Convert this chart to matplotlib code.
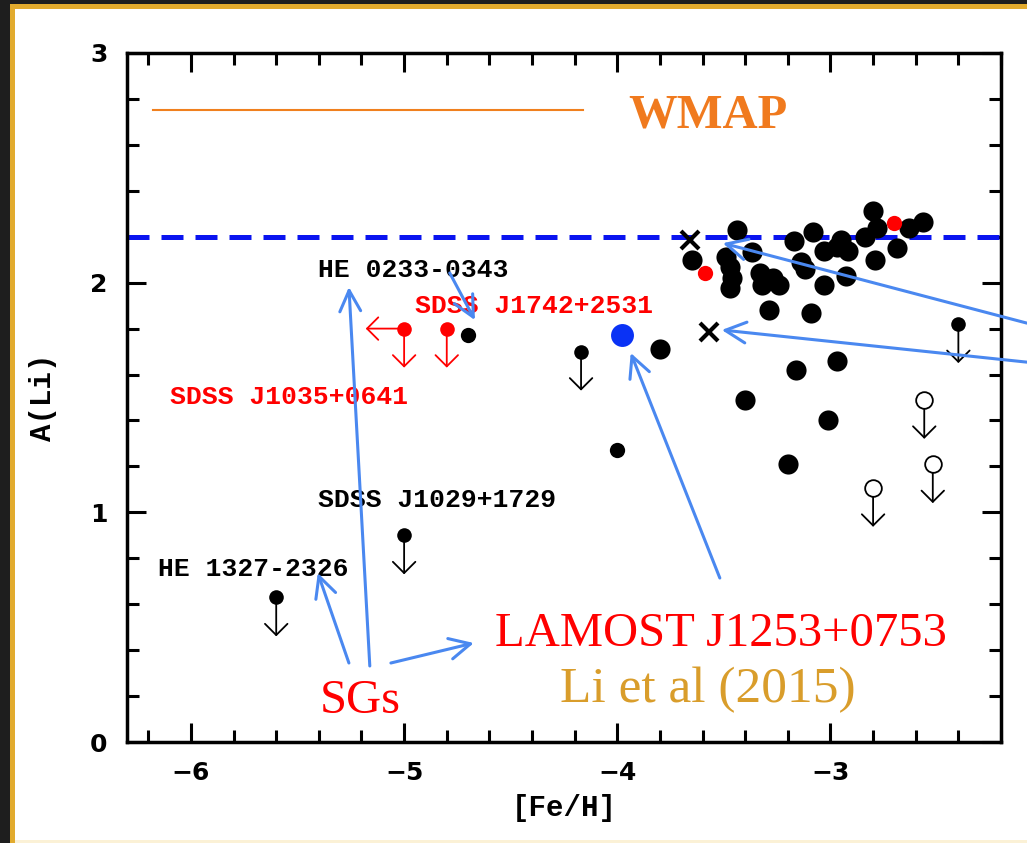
import matplotlib
matplotlib.use('Agg')
import matplotlib.pyplot as plt
from matplotlib.patches import Rectangle
from matplotlib.ticker import MultipleLocator
from matplotlib import font_manager

# --- measured A(Li) vs [Fe/H] ---
det_feh = [-3.65, -3.44, -3.49, -3.37, -3.47, -3.46, -3.47, -3.33, -3.32, -3.27,
           -3.24, -3.29, -3.09, -3.17, -3.08, -3.14, -3.12, -3.03, -3.03, -2.925,
           -2.97, -2.92, -2.95, -2.84, -2.80, -2.78, -2.79, -2.69, -2.63, -2.565,
           -2.97, -3.16, -3.40, -3.01, -3.20, -3.80]
det_li = [2.10, 2.23, 2.11, 2.135, 2.07, 2.02, 1.975, 2.04, 1.99, 2.02,
          1.99, 1.88, 1.87, 2.18, 2.22, 2.09, 2.06, 2.14, 1.99, 2.03,
          2.155, 2.14, 2.185, 2.20, 2.31, 2.24, 2.10, 2.15, 2.24, 2.265,
          1.66, 1.62, 1.49, 1.40, 1.21, 1.71]

small_feh = [-4.70, -4.00]
small_li = [1.77, 1.27]

red_feh = [-3.59, -2.70]
red_li = [2.04, 2.26]

# upper limits
lim_feh = [-5.60, -5.00, -4.17, -2.40]
lim_li = [0.63, 0.90, 1.70, 1.82]

red_lim_feh = [-5.00, -4.80]
red_lim_li = [1.80, 1.80]

open_lim_feh = [-2.56, -2.52, -2.80]
open_lim_li = [1.49, 1.21, 1.107]

cross_feh = [-3.66, -3.57]
cross_li = [2.185, 1.786]

lamost_feh, lamost_li = -3.976, 1.77

wmap_li = 2.75
plateau_li = 2.2

star_names = ['HE 0233-0343', 'SDSS J1742+2531', 'SDSS J1035+0641',
              'SDSS J1029+1729', 'HE 1327-2326']
name_x = [-5.405, -4.95, -6.10, -5.405, -6.155]
name_y = [2.055, 1.90, 1.50, 1.054, 0.753]
name_colors = ['black', 'red', 'red', 'black', 'black']

W, H = 1027, 843
fig = plt.figure(figsize=(W / 100, H / 100), dpi=100)
fig.patch.set_facecolor('#1e1e1e')
fig.add_artist(Rectangle((10 / W, 0), 1, (H - 4) / H, transform=fig.transFigure,
                         facecolor='#e2ab2e', edgecolor='none', zorder=-10))
fig.add_artist(Rectangle((15 / W, 0), 1, 3 / H, transform=fig.transFigure,
                         facecolor='#fbf1d6', edgecolor='none', zorder=-9))
fig.add_artist(Rectangle((15 / W, 3 / H), 1, (H - 12) / H, transform=fig.transFigure,
                         facecolor='white', edgecolor='none', zorder=-9))

installed = {f.name for f in font_manager.fontManager.ttflist}
narrow = 'Liberation Sans Narrow' if 'Liberation Sans Narrow' in installed else 'DejaVu Sans'
mono = 'Liberation Mono'
serif = 'Liberation Serif'

ax = fig.add_axes([127 / W, (H - 742) / H, 874 / W, 689 / H])
ax.set_facecolor('white')
ax.set_xlim(-6.3, -2.2)
ax.set_ylim(0, 3)

ax.xaxis.set_major_locator(MultipleLocator(1))
ax.xaxis.set_minor_locator(MultipleLocator(0.2))
ax.yaxis.set_major_locator(MultipleLocator(1))
ax.yaxis.set_minor_locator(MultipleLocator(0.2))
ax.tick_params(which='both', direction='in', top=True, right=True, width=2.2, color='black')
ax.tick_params(which='major', length=13.5, pad=14)
ax.tick_params(which='minor', length=8.5)
for s in ax.spines.values():
    s.set_linewidth(2.5)
for lab in ax.get_xticklabels() + ax.get_yticklabels():
    lab.set_fontfamily(narrow)
    lab.set_fontweight('bold')
    lab.set_fontsize(21 if narrow != 'DejaVu Sans' else 18)

ax.set_xlabel('[Fe/H]', fontfamily=mono, fontweight='bold', fontsize=21, labelpad=6)
ax.set_ylabel('A(Li)', fontfamily=mono, fontweight='bold', fontsize=21, labelpad=24)

# reference levels
ax.plot([-6.18, -4.16], [wmap_li, wmap_li], color='#f0801e', lw=1.5)
ax.text(-3.95, 2.73, 'WMAP', color='#f07a1e', fontfamily=serif, fontweight='bold',
        fontsize=35, va='center', ha='left')
ax.axhline(plateau_li, color='#0a14f0', lw=3.6, dashes=(4.4, 2.4), zorder=2)

# upper limit arrows
arrow_kw = dict(arrowstyle='->,head_length=0.45,head_width=0.45', mutation_scale=18,
                lw=1.3, shrinkA=0, shrinkB=0)
for x, y in zip(lim_feh + open_lim_feh, lim_li + open_lim_li):
    ax.annotate('', xy=(x, y - 0.17), xytext=(x, y), arrowprops=dict(color='black', **arrow_kw))
for x, y in zip(red_lim_feh, red_lim_li):
    ax.annotate('', xy=(x, y - 0.17), xytext=(x, y), arrowprops=dict(color='red', **arrow_kw))
ax.annotate('', xy=(red_lim_feh[0] - 0.18, red_lim_li[0]),
            xytext=(red_lim_feh[0], red_lim_li[0]), arrowprops=dict(color='red', **arrow_kw))

ax.plot(det_feh, det_li, 'o', color='black', ms=14.5, mew=0, zorder=4)
ax.plot(small_feh, small_li, 'o', color='black', ms=11, mew=0, zorder=4)
ax.plot(lim_feh, lim_li, 'o', color='black', ms=10.5, mew=0, zorder=4)
ax.plot(red_lim_feh, red_lim_li, 'o', color='red', ms=10.5, mew=0, zorder=4)
ax.plot(red_feh, red_li, 'o', color='red', ms=11, mew=0, zorder=5)
ax.plot(open_lim_feh, open_lim_li, 'o', mfc='white', mec='black', ms=12, mew=1.3, zorder=4)
ax.plot(cross_feh, cross_li, 'x', color='black', ms=13, mew=3, zorder=5)
ax.plot([lamost_feh], [lamost_li], 'o', color='#0a32f5', ms=16.5, mew=0, zorder=5)

for name, x, y, c in zip(star_names, name_x, name_y, name_colors):
    ax.text(x, y, name, color=c, fontfamily=mono, fontweight='bold', fontsize=19,
            va='center', ha='left')

ax.text(-4.575, 0.47, 'LAMOST J1253+0753', color='red', fontfamily=serif,
        fontsize=35, va='center', ha='left')
ax.text(-4.27, 0.225, 'Li et al (2015)', color='#d99d2b', fontfamily=serif,
        fontsize=37, va='center', ha='left')
ax.text(-5.395, 0.18, 'SGs', color='red', fontfamily=serif,
        fontsize=35, va='center', ha='left')

# pointer arrows
blue_kw = dict(arrowstyle='->,head_length=0.6,head_width=0.3', mutation_scale=25,
               color='#4a88f0', lw=2.2, shrinkA=0, shrinkB=0)
pointers = [((-5.259, 0.344), (-5.405, 0.736)),
            ((-5.161, 0.331), (-5.259, 1.981)),
            ((-5.062, 0.344), (-4.673, 0.431)),
            ((-4.786, 2.042), (-4.668, 1.837)),
            ((-3.519, 0.714), (-3.937, 1.694)),
            ((-2.079, 1.824), (-3.505, 2.172)),
            ((-2.079, 1.654), (-3.510, 1.794))]
for start, end in pointers:
    ax.annotate('', xy=end, xytext=start, arrowprops=blue_kw, annotation_clip=False, zorder=6)

fig.savefig('out.png', dpi=100, facecolor=fig.get_facecolor())
